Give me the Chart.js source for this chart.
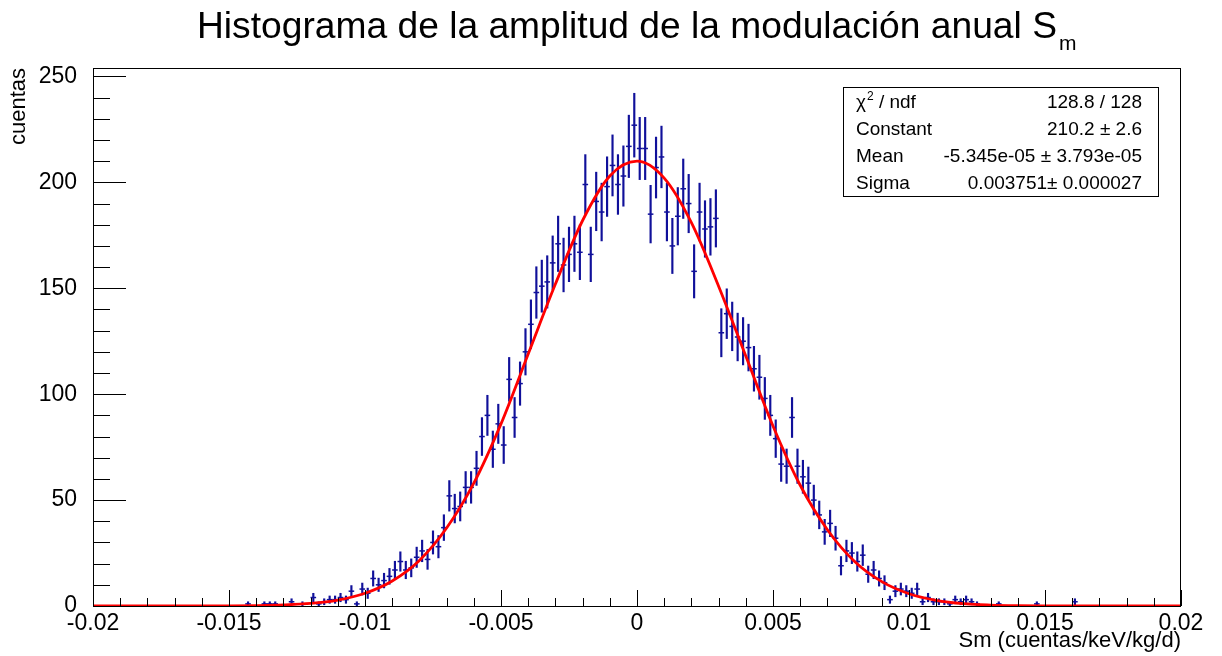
<!DOCTYPE html>
<html>
<head>
<meta charset="utf-8">
<title>Histograma de la amplitud de la modulación anual</title>
<script src="https://cdn.jsdelivr.net/npm/chart.js@4.4.1/dist/chart.umd.min.js"></script>
<style>
  html, body { margin: 0; padding: 0; background: #fff; }
  #wrap { position: relative; width: 1222px; height: 656px; }
</style>
</head>
<body>
<div id="wrap"><canvas id="chart" width="1222" height="656"></canvas></div>
<script>
// histogram: 200 bins between -0.02 and 0.02
const BIN_LO = -0.02;
const BIN_WIDTH = 0.0002;
const counts = [
  // bins 0-19
  0,0,0,0,0,0,0,0,0,0, 0,0,0,0,0,0,0,0,0,0,
  // 20-39
  0,0,0,0,0,0,0,0,1,0, 0,1,1,1,0,0,2,0,1,0,
  // 40-59
  4,1,2,3,3,4,3,7,1,8, 6,13,10,12,14,17,21,17,18,23,
  // 60-79
  26,22,30,28,37,52,46,47,56,56, 65,80,90,74,86,76,107,89,105,120,
  // 80-99
  133,148,151,153,162,171,161,166,171,167, 199,166,191,186,198,208,199,203,217,227,
  // 100-119
  216,216,185,207,212,186,170,184,197,190, 158,186,178,179,183,129,138,132,127,125,
  // 120-139
  122,112,108,98,90,79,67,66,89,66, 61,58,50,43,35,39,32,19,26,25,
  // 140-159
  21,24,15,17,13,11,3,7,8,7, 6,8,2,4,2,2,2,1,3,2,
  // 160-179
  3,2,1,0,0,0,1,0,0,0, 0,0,0,1,0,0,0,0,0,0,
  // 180-199
  2,0,0,0,0,0,0,0,0,0, 0,0,0,0,0,0,0,0,0,0
];

// gaussian fit curve, every 0.001
const FIT_X0 = -0.02;
const FIT_STEP = 0.001;
const fitY = [
  0, 0, 0, 0, 0.02, 0.07, 0.2, 0.5, 1.2, 2.8,
  6.0, 11.8, 21.5, 36.8, 58, 86, 119, 152, 182, 203,
  210,
  202, 181, 151, 118, 85, 57, 36, 21, 11.5, 5.8,
  2.7, 1.1, 0.45, 0.17, 0.06, 0.02, 0, 0, 0, 0
];

const xTicks = [-0.02, -0.015, -0.01, -0.005, 0, 0.005, 0.01, 0.015, 0.02];
const yTicks = [0, 50, 100, 150, 200, 250];
const X_MINOR = 0.001;
const Y_MINOR = 10;
const Y_MAX = 254;

const TITLE = 'Histograma de la amplitud de la modulación anual S';
const TITLE_SUB = 'm';
const X_TITLE = 'Sm (cuentas/keV/kg/d)';
const Y_TITLE = 'cuentas';

const statsLabels = ['/ ndf', 'Constant', 'Mean', 'Sigma'];
const statsValues = ['128.8 / 128', '210.2 ± 2.6', '-5.345e-05 ± 3.793e-05', '0.003751± 0.000027'];

const FONT = "'Liberation Sans', Arial, Helvetica, sans-serif";
const HIST_COLOR = '#10109a';
const FIT_COLOR = '#ff0000';

function binCenter(i){
  return BIN_LO + (i + 0.5) * BIN_WIDTH;
}

function buildErrorBars(){
  const out = [];
  counts.forEach((n, i) => {
    if(n <= 0) return;
    const e = Math.sqrt(n);
    out.push({ x: binCenter(i), y: [Math.max(0, n - e), n + e] });
  });
  return out;
}

function buildMarkers(){
  const out = [];
  counts.forEach((n, i) => {
    if(n > 0) out.push({ x: binCenter(i), y: n });
  });
  return out;
}

function buildFit(){
  return fitY.map((v, i) => ({ x: FIT_X0 + i * FIT_STEP, y: v }));
}

function fmtX(v){
  return Number(v.toFixed(4)).toString();
}

// frame, inner ticks, title and stats box drawn the ROOT way
const rootDecor = {
  id: 'rootDecor',
  afterDatasetsDraw(chart){
    const { ctx, chartArea: a, scales: { x, y } } = chart;
    ctx.save();
    ctx.strokeStyle = '#000';
    ctx.lineWidth = 1;
    ctx.beginPath();
    // x ticks (inside, pointing up)
    const nx = Math.round((x.max - x.min) / X_MINOR);
    for(let i = 0; i <= nx; i++){
      const v = x.min + i * X_MINOR;
      const px = Math.round(x.getPixelForValue(v)) + 0.5;
      const major = xTicks.some(t => Math.abs(t - v) < 1e-9);
      ctx.moveTo(px, a.bottom);
      ctx.lineTo(px, a.bottom - (major ? 16 : 8));
    }
    // y ticks (inside, pointing right)
    for(let v = 0; v <= Y_MAX; v += Y_MINOR){
      const py = Math.round(y.getPixelForValue(v)) + 0.5;
      const major = yTicks.indexOf(v) >= 0;
      ctx.moveTo(a.left, py);
      ctx.lineTo(a.left + (major ? 33 : 17), py);
    }
    ctx.stroke();
    ctx.strokeRect(a.left + 0.5, a.top + 0.5, a.right - a.left - 1, a.bottom - a.top);
    ctx.restore();
  },
  afterDraw(chart){
    const { ctx } = chart;
    ctx.save();
    ctx.fillStyle = '#000';
    ctx.textBaseline = 'alphabetic';

    // title with subscript
    ctx.font = '37.2px ' + FONT;
    ctx.textAlign = 'left';
    ctx.fillText(TITLE, 197, 38);
    const tw = ctx.measureText(TITLE).width;
    ctx.font = '21px ' + FONT;
    ctx.fillText(TITLE_SUB, 197 + tw + 2, 50);

    // stats box
    const bx = 843, by = 87, bw = 315, bh = 109;
    ctx.fillStyle = '#fff';
    ctx.fillRect(bx, by, bw, bh);
    ctx.strokeStyle = '#000';
    ctx.lineWidth = 1;
    ctx.strokeRect(bx + 0.5, by + 0.5, bw, bh);
    ctx.fillStyle = '#000';
    const rowH = bh / 4;
    statsLabels.forEach((lab, i) => {
      const base = by + rowH * i + rowH / 2 + 7;
      ctx.font = '19px ' + FONT;
      ctx.textAlign = 'left';
      if(i === 0){
        ctx.fillText('χ', 856, base);
        const cw = ctx.measureText('χ').width;
        ctx.font = '12px ' + FONT;
        ctx.fillText('2', 856 + cw + 1, base - 8);
        const sw = ctx.measureText('2').width;
        ctx.font = '19px ' + FONT;
        ctx.fillText(' ' + lab, 856 + cw + 1 + sw, base);
      } else {
        ctx.fillText(lab, 856, base);
      }
      ctx.textAlign = 'right';
      ctx.fillText(statsValues[i], 1142, base);
    });
    ctx.restore();
  }
};

const ctx = document.getElementById('chart').getContext('2d');
new Chart(ctx, {
  type: 'scatter',
  data: {
    datasets: [
      {
        type: 'line',
        data: buildFit(),
        borderColor: FIT_COLOR,
        borderWidth: 2.8,
        pointRadius: 0,
        cubicInterpolationMode: 'monotone',
        fill: false,
        order: 0
      },
      {
        type: 'scatter',
        data: buildMarkers(),
        pointStyle: 'line',
        pointRadius: 2.8,
        borderColor: HIST_COLOR,
        borderWidth: 1.5,
        showLine: false,
        order: 1
      },
      {
        type: 'bar',
        data: buildErrorBars(),
        backgroundColor: HIST_COLOR,
        borderWidth: 0,
        barThickness: 1.5,
        grouped: false,
        order: 2
      }
    ]
  },
  options: {
    responsive: false,
    animation: false,
    devicePixelRatio: 1,
    layout: { padding: { top: 68, right: 41, left: 0, bottom: 0 } },
    plugins: { legend: { display: false }, tooltip: { enabled: false } },
    scales: {
      x: {
        type: 'linear',
        min: -0.02,
        max: 0.02,
        offset: false,
        grid: { display: false, offset: false },
        border: { display: false },
        afterBuildTicks: s => { s.ticks = xTicks.map(v => ({ value: v })); },
        afterFit: s => { s.height = 50; },
        ticks: {
          autoSkip: false,
          maxRotation: 0,
          padding: -4,
          color: '#000',
          font: { family: FONT, size: 23 },
          callback: v => fmtX(v)
        },
        title: {
          display: true,
          text: X_TITLE,
          align: 'end',
          color: '#000',
          font: { family: FONT, size: 22 },
          padding: { top: 0, bottom: 2 }
        }
      },
      y: {
        type: 'linear',
        min: 0,
        max: Y_MAX,
        grid: { display: false },
        border: { display: false },
        afterBuildTicks: s => { s.ticks = yTicks.map(v => ({ value: v })); },
        afterFit: s => { s.width = 93; },
        ticks: {
          padding: 8,
          color: '#000',
          font: { family: FONT, size: 23 }
        },
        title: {
          display: true,
          text: Y_TITLE,
          align: 'end',
          color: '#000',
          font: { family: FONT, size: 22 },
          padding: { top: 6, bottom: 0 }
        }
      }
    }
  },
  plugins: [rootDecor]
});
</script>
</body>
</html>
